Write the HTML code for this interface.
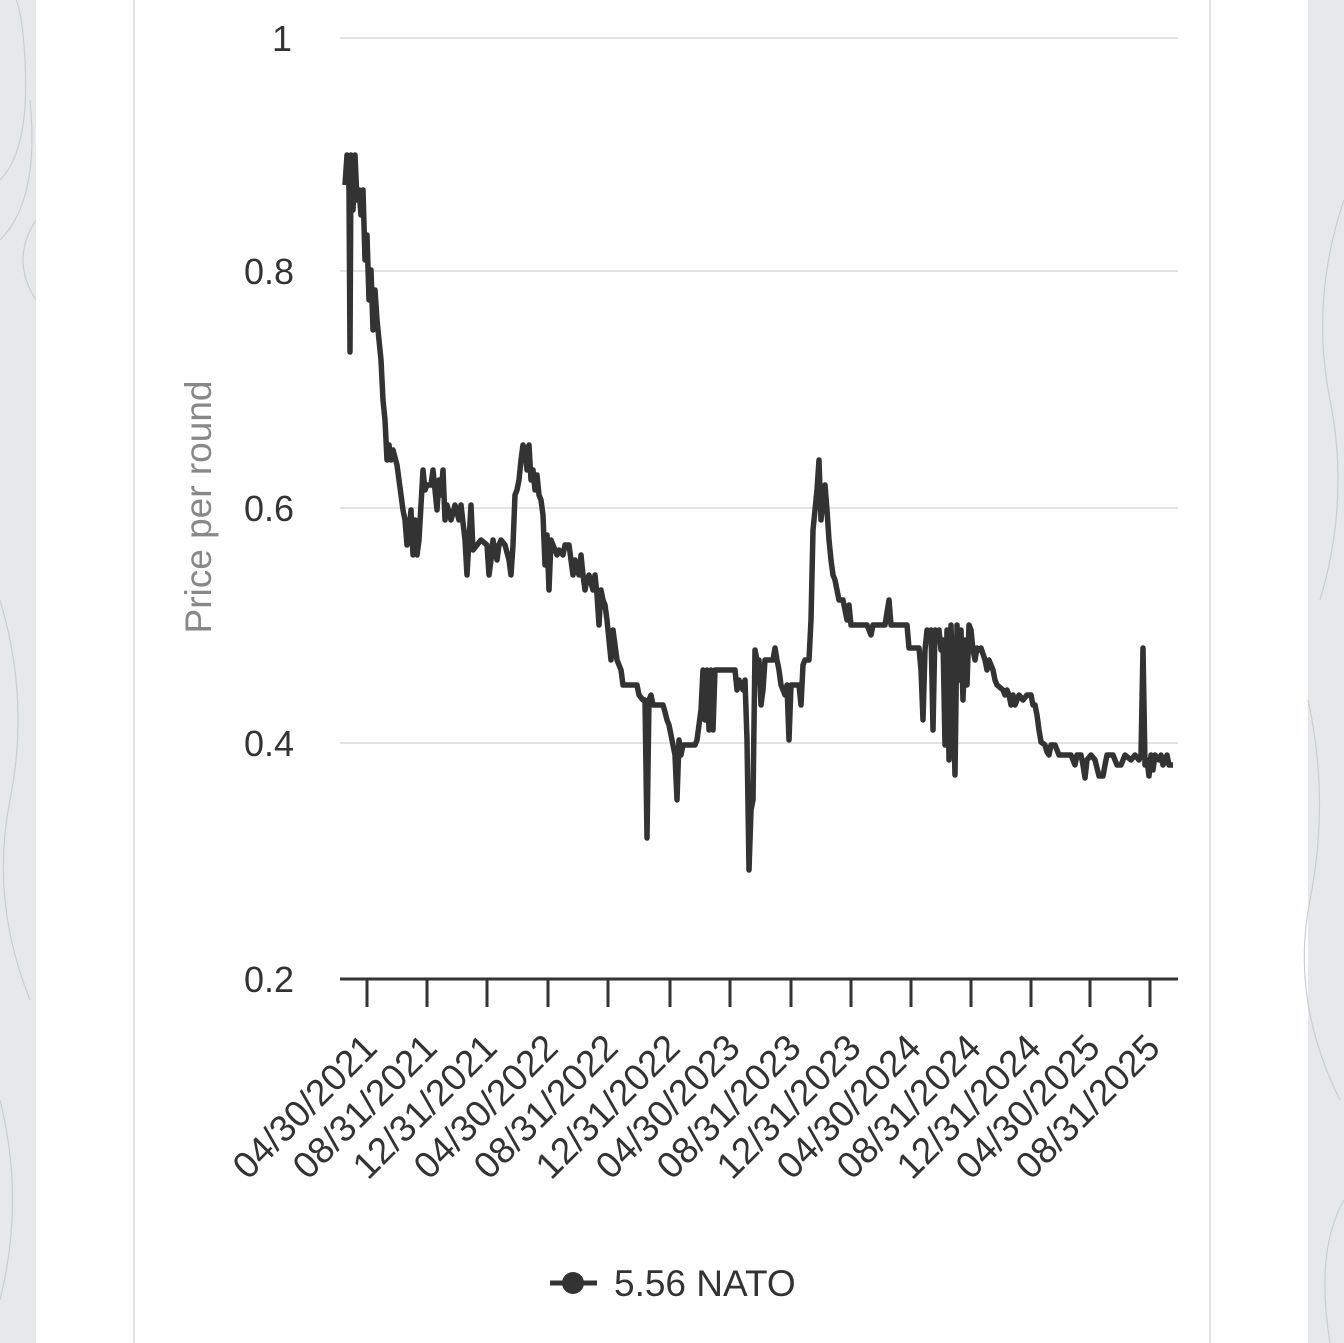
<!DOCTYPE html>
<html><head><meta charset="utf-8"><style>
html,body{margin:0;padding:0;width:1344px;height:1343px;overflow:hidden;background:#fff}
svg{display:block}
text{font-family:"Liberation Sans",sans-serif}
</style></head><body>
<svg width="1344" height="1343" viewBox="0 0 1344 1343">
<rect x="0" y="0" width="36" height="1343" fill="#e5e9e9"/>
<rect x="1308" y="0" width="36" height="1343" fill="#e5e9e9"/>
<g fill="none" stroke="#c9cfcf" stroke-width="1.2">
<path d="M0 180 Q30 150 25 60 T0 0"/><path d="M0 240 Q40 200 30 100"/><path d="M36 220 Q10 260 36 300"/><path d="M0 600 Q30 700 10 800 T30 1000"/><path d="M0 1100 Q25 1200 0 1300"/>
<path d="M1344 200 Q1310 300 1330 400 T1320 600"/><path d="M1308 700 Q1330 800 1310 900 T1340 1100"/><path d="M1344 1200 Q1315 1250 1330 1343"/>
</g>
<line x1="134" y1="0" x2="134" y2="1343" stroke="#e2e2e2" stroke-width="2"/>
<line x1="1210" y1="0" x2="1210" y2="1343" stroke="#e2e2e2" stroke-width="2"/>
<g stroke="#e3e3e3" stroke-width="2">
<line x1="340" y1="38" x2="1178" y2="38"/><line x1="340" y1="271" x2="1178" y2="271"/><line x1="340" y1="508" x2="1178" y2="508"/><line x1="340" y1="743" x2="1178" y2="743"/>
</g>
<g font-size="36" fill="#333" text-anchor="end">
<text x="292" y="51">1</text><text x="294" y="284">0.8</text><text x="294" y="521">0.6</text><text x="294" y="756">0.4</text><text x="294" y="992">0.2</text>
</g>
<text transform="translate(211,507) rotate(-90)" text-anchor="middle" font-size="37" fill="#888">Price per round</text>
<line x1="340" y1="979" x2="1178" y2="979" stroke="#333" stroke-width="3"/>
<g stroke="#333" stroke-width="3">
<line x1="367" y1="979" x2="367" y2="1007"/><line x1="427" y1="979" x2="427" y2="1007"/><line x1="487" y1="979" x2="487" y2="1007"/><line x1="548" y1="979" x2="548" y2="1007"/><line x1="608" y1="979" x2="608" y2="1007"/><line x1="670" y1="979" x2="670" y2="1007"/><line x1="730" y1="979" x2="730" y2="1007"/><line x1="791" y1="979" x2="791" y2="1007"/><line x1="851" y1="979" x2="851" y2="1007"/><line x1="911" y1="979" x2="911" y2="1007"/><line x1="971" y1="979" x2="971" y2="1007"/><line x1="1031" y1="979" x2="1031" y2="1007"/><line x1="1090" y1="979" x2="1090" y2="1007"/><line x1="1150" y1="979" x2="1150" y2="1007"/>
</g>
<g font-size="37" fill="#333" text-anchor="end">
<text transform="translate(379,1050) rotate(-45)">04/30/2021</text>
<text transform="translate(439,1050) rotate(-45)">08/31/2021</text>
<text transform="translate(499,1050) rotate(-45)">12/31/2021</text>
<text transform="translate(560,1050) rotate(-45)">04/30/2022</text>
<text transform="translate(620,1050) rotate(-45)">08/31/2022</text>
<text transform="translate(682,1050) rotate(-45)">12/31/2022</text>
<text transform="translate(742,1050) rotate(-45)">04/30/2023</text>
<text transform="translate(803,1050) rotate(-45)">08/31/2023</text>
<text transform="translate(863,1050) rotate(-45)">12/31/2023</text>
<text transform="translate(923,1050) rotate(-45)">04/30/2024</text>
<text transform="translate(983,1050) rotate(-45)">08/31/2024</text>
<text transform="translate(1043,1050) rotate(-45)">12/31/2024</text>
<text transform="translate(1102,1050) rotate(-45)">04/30/2025</text>
<text transform="translate(1162,1050) rotate(-45)">08/31/2025</text>
</g>
<polyline fill="none" stroke="#333" stroke-width="5.5" stroke-linejoin="round" points="345,185 347,155 349,190 350,352 351,155 353,210 355,155 357,200 359,190 361,215 363,190 365,260 367,235 369,300 371,270 373,330 375,290 377,320 379,340 381,360 383,400 385,420 387,460 389,445 391,460 393,450 397,465 399,480 401,495 403,510 405,520 407,545 409,530 411,510 413,555 415,520 417,555 419,540 421,505 423,470 425,490 427,485 431,485 433,470 435,490 437,510 439,480 441,495 443,470 445,520 447,505 451,520 455,505 459,520 461,505 465,540 467,575 469,540 471,505 473,550 477,545 481,540 487,545 489,575 491,560 493,540 497,560 499,545 501,540 505,545 509,560 511,575 513,545 515,495 517,490 519,480 521,460 523,445 525,450 527,470 529,445 531,480 533,470 535,490 537,475 539,495 541,500 543,515 545,565 547,535 549,590 551,540 553,545 557,555 559,550 563,555 565,545 569,545 571,560 573,575 575,560 577,570 579,575 581,555 583,575 585,590 587,580 589,575 593,590 595,575 597,595 599,625 601,590 603,600 605,605 607,620 609,640 611,660 613,630 615,645 617,660 619,665 621,670 623,685 627,685 633,685 637,685 639,695 643,700 645,700 647,838 649,700 651,695 653,705 659,705 663,705 665,712 667,720 669,725 671,735 673,745 675,755 677,800 679,740 681,755 683,745 687,745 691,745 695,745 697,740 699,725 701,710 703,670 705,720 707,670 709,730 711,670 713,730 715,670 721,670 727,670 735,670 737,690 739,680 741,685 743,690 745,680 747,740 749,870 751,810 753,800 755,650 757,660 759,660 761,705 763,690 765,660 769,660 773,660 775,648 777,660 779,670 781,685 783,690 785,695 787,685 789,740 791,685 795,685 799,685 801,705 803,665 805,660 809,660 811,620 813,530 815,510 817,490 819,460 821,520 823,500 825,485 827,510 829,540 831,560 833,575 835,580 837,590 839,600 843,600 845,610 847,620 849,605 851,625 855,625 861,625 867,625 871,635 873,625 877,625 881,625 885,625 889,600 891,625 897,625 907,625 909,648 913,648 917,648 919,648 921,670 923,720 925,650 927,630 929,640 931,630 933,730 935,630 937,640 939,630 941,650 943,640 945,745 947,630 949,760 951,625 953,700 955,775 957,625 959,680 961,630 963,700 965,640 967,685 969,625 971,630 973,650 975,660 977,648 979,650 981,648 985,660 987,670 989,660 993,670 995,680 997,685 1003,690 1005,695 1007,690 1009,695 1011,705 1013,695 1015,705 1017,700 1019,695 1023,700 1027,695 1031,695 1033,705 1035,705 1037,715 1039,730 1041,742 1045,745 1047,752 1049,755 1051,745 1055,745 1057,750 1059,755 1061,755 1071,755 1075,765 1077,755 1081,755 1083,765 1085,778 1087,760 1091,755 1095,760 1097,768 1099,776 1103,776 1105,765 1107,755 1113,755 1117,765 1121,765 1125,755 1131,760 1135,755 1139,760 1141,755 1143,648 1145,765 1147,760 1149,776 1151,755 1153,770 1155,755 1159,760 1161,755 1163,765 1165,760 1167,755 1169,765 1173,765"/>
<line x1="550" y1="1283" x2="597" y2="1283" stroke="#333" stroke-width="5"/>
<circle cx="573" cy="1283" r="11" fill="#333"/>
<text x="614" y="1296" font-size="37" fill="#333">5.56 NATO</text>
</svg>
</body></html>
